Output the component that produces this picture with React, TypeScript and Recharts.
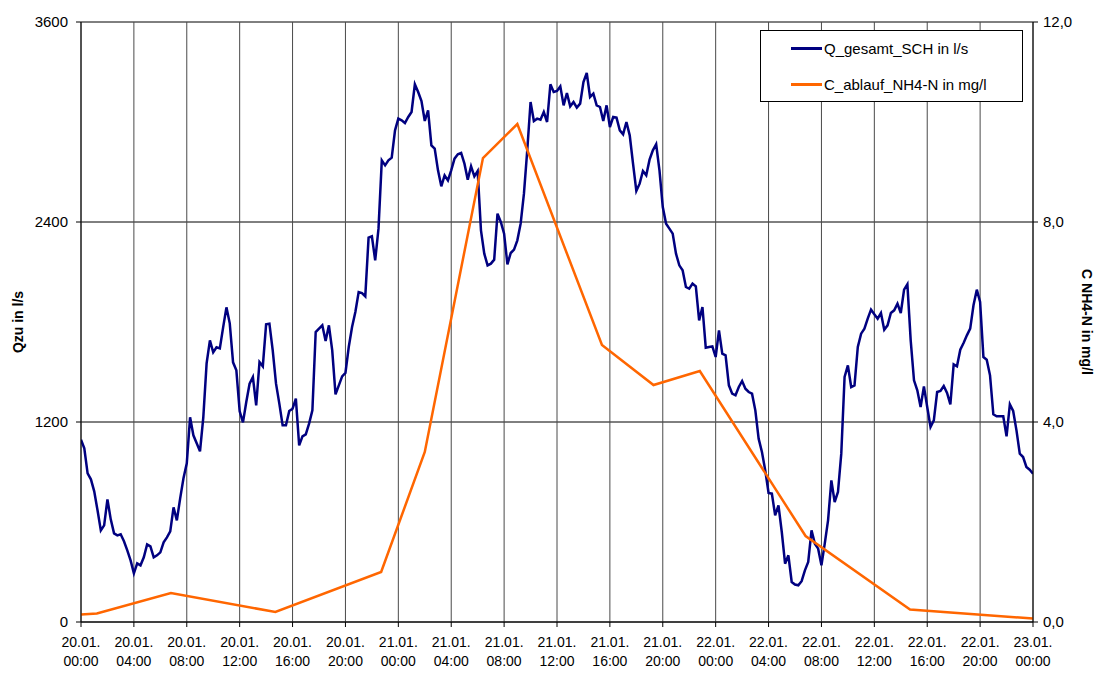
import {
  LineChart,
  Line,
  CartesianGrid,
  XAxis,
  YAxis,
  Label,
} from "recharts";

// Q_gesamt_SCH in l/s, one value every 15 minutes from 20.01. 00:00 to 23.01. 00:00
const qFlow = [
  1094, 1042, 892, 856, 784, 670, 550, 580, 736, 616, 532, 520,
  526, 484, 430, 370, 292, 352, 340, 388, 466, 454, 388, 400,
  418, 478, 508, 544, 688, 610, 742, 862, 952, 1228, 1120, 1072,
  1024, 1228, 1552, 1690, 1618, 1648, 1642, 1768, 1888, 1792, 1558, 1510,
  1264, 1198, 1320, 1430, 1470, 1300, 1560, 1534, 1786, 1790, 1630, 1430,
  1310, 1180, 1180, 1266, 1280, 1340, 1060, 1114, 1126, 1190, 1270, 1740,
  1760, 1780, 1686, 1780, 1630, 1366, 1420, 1474, 1494, 1650, 1770, 1860,
  1980, 1974, 1954, 2306, 2314, 2170, 2360, 2770, 2740, 2770, 2786, 2950,
  3020, 3010, 2994, 3030, 3060, 3226, 3180, 3126, 3006, 3070, 2860, 2840,
  2710, 2614, 2680, 2650, 2710, 2780, 2806, 2814, 2750, 2654, 2734, 2674,
  2706, 2350, 2210, 2140, 2150, 2174, 2450, 2400, 2330, 2146, 2214, 2234,
  2290, 2390, 2570, 2830, 3120, 3006, 3020, 3014, 3060, 3000, 3226, 3180,
  3186, 3214, 3100, 3174, 3094, 3120, 3086, 3110, 3240, 3294, 3150, 3170,
  3100, 3090, 3006, 3100, 2970, 3030, 3026, 2950, 2926, 3000, 2920, 2750,
  2586, 2630, 2706, 2680, 2774, 2830, 2866, 2710, 2490, 2390, 2360, 2330,
  2210, 2140, 2110, 2010, 2000, 2030, 2014, 1810, 1890, 1646, 1650, 1654,
  1590, 1750, 1610, 1600, 1420, 1370, 1360, 1410, 1446, 1400, 1380, 1370,
  1270, 1100, 1020, 910, 774, 770, 640, 700, 540, 350, 400, 240,
  225, 220, 245, 310, 360, 550, 470, 440, 340, 470, 610, 850,
  720, 780, 1010, 1470, 1540, 1410, 1420, 1650, 1730, 1760, 1820, 1874,
  1846, 1820, 1854, 1754, 1780, 1854, 1870, 1910, 1854, 1994, 2026, 1690,
  1450, 1390, 1290, 1414, 1290, 1170, 1210, 1380, 1386, 1416, 1374, 1306,
  1546, 1534, 1634, 1674, 1720, 1760, 1900, 1994, 1920, 1590, 1574, 1480,
  1246, 1234, 1234, 1234, 1114, 1306, 1266, 1150, 1010, 990, 930, 914,
  890,
];

// C_ablauf_NH4-N in mg/l, sample times in hours after 20.01. 00:00
const cHours = [0, 1.2, 6.8, 14.7, 22.7, 26.0, 30.4, 33.0, 39.4, 43.3, 46.8, 54.8, 62.7, 72];
const cValues = [0.15, 0.17, 0.58, 0.2, 1.0, 3.4, 9.28, 9.96, 5.54, 4.74, 5.02, 1.72, 0.25, 0.07];

const xTicks = [0, 4, 8, 12, 16, 20, 24, 28, 32, 36, 40, 44, 48, 52, 56, 60, 64, 68, 72];
const xTickLabels = [
  "20.01. 00:00", "20.01. 04:00", "20.01. 08:00", "20.01. 12:00", "20.01. 16:00",
  "20.01. 20:00", "21.01. 00:00", "21.01. 04:00", "21.01. 08:00", "21.01. 12:00",
  "21.01. 16:00", "21.01. 20:00", "22.01. 00:00", "22.01. 04:00", "22.01. 08:00",
  "22.01. 12:00", "22.01. 16:00", "22.01. 20:00", "23.01. 00:00",
];
const qTicks = [0, 1200, 2400, 3600];
const cTicks = [0, 4, 8, 12];

const seriesNames = ["Q_gesamt_SCH in l/s", "C_ablauf_NH4-N in mg/l"];
const seriesColors = ["#000080", "#ff6600"];

const qData = qFlow.map((q, i) => ({ t: i * 0.25, q }));
const cData = cHours.map((t, i) => ({ t, c: cValues[i] }));

const FONT = "'Liberation Sans', Arial, sans-serif";

function XTick(props: any) {
  const { x, y, payload } = props;
  const idx = xTicks.indexOf(payload.value);
  const [day, time] = (xTickLabels[idx] ?? "").split(" ");
  return (
    <text x={x} y={y} textAnchor="middle" fontSize={14} fill="#000" fontFamily={FONT}>
      <tspan x={x} dy={18}>{day}</tspan>
      <tspan x={x} dy={19}>{time}</tspan>
    </text>
  );
}

function SideTitle(props: any) {
  const { viewBox, value, side } = props;
  const cy = viewBox.y + viewBox.height / 2;
  const cx = side === "left" ? 18 : 1087;
  const angle = side === "left" ? -90 : 90;
  return (
    <text
      x={cx}
      y={cy}
      textAnchor="middle"
      dominantBaseline="central"
      fontSize={14}
      fontWeight="bold"
      fontFamily={FONT}
      fill="#000"
      transform={`rotate(${angle}, ${cx}, ${cy})`}
    >
      {value}
    </text>
  );
}

function LegendBox() {
  return (
    <div
      style={{
        position: "absolute",
        left: 760,
        top: 30,
        width: 261,
        height: 70,
        border: "1px solid #000",
        background: "#fff",
        fontFamily: FONT,
        fontSize: 15,
      }}
    >
      {seriesNames.map((name, i) => (
        <div
          key={name}
          style={{
            position: "absolute",
            left: 30,
            top: 8 + i * 36,
            height: 18,
            display: "flex",
            alignItems: "center",
            whiteSpace: "nowrap",
          }}
        >
          <span style={{ display: "inline-block", width: 31, height: 3, background: seriesColors[i], marginRight: 2 }} />
          <span style={{ color: "#000" }}>{name}</span>
        </div>
      ))}
    </div>
  );
}

export default function App() {
  return (
    <div style={{ position: "absolute", left: 0, top: 0, width: 1098, height: 673, background: "#fff", fontFamily: FONT }}>
      <LineChart width={1098} height={673} margin={{ top: 22, right: 0, bottom: 0, left: 0 }}>
        <CartesianGrid yAxisId="q" vertical={false} stroke="#000" strokeWidth={1} />
        <CartesianGrid yAxisId="q" horizontal={false} stroke="#4a4a4a" strokeWidth={1} />
        <XAxis
          type="number"
          dataKey="t"
          domain={[0, 72]}
          ticks={xTicks}
          interval={0}
          height={51}
          tick={<XTick />}
          tickSize={5}
          axisLine={{ stroke: "#000" }}
          tickLine={{ stroke: "#000" }}
          allowDataOverflow
        />
        <YAxis
          yAxisId="q"
          orientation="left"
          domain={[0, 3600]}
          ticks={qTicks}
          width={81}
          tickSize={5}
          tickMargin={8}
          tick={{ fill: "#000", fontSize: 15, fontFamily: FONT }}
          axisLine={{ stroke: "#000" }}
          tickLine={{ stroke: "#000" }}
          allowDataOverflow
        >
          <Label content={<SideTitle side="left" value="Qzu in l/s" />} />
        </YAxis>
        <YAxis
          yAxisId="c"
          orientation="right"
          domain={[0, 12]}
          ticks={cTicks}
          width={65}
          tickSize={5}
          tickMargin={5}
          tickFormatter={(v: number) => v.toFixed(1).replace(".", ",")}
          tick={{ fill: "#000", fontSize: 15, fontFamily: FONT, textAnchor: "start" }}
          axisLine={{ stroke: "#000" }}
          tickLine={{ stroke: "#000" }}
          allowDataOverflow
        >
          <Label content={<SideTitle side="right" value="C NH4-N in mg/l" />} />
        </YAxis>
        <Line
          yAxisId="q"
          data={qData}
          dataKey="q"
          name={seriesNames[0]}
          type="linear"
          stroke={seriesColors[0]}
          strokeWidth={2.5}
          dot={false}
          activeDot={false}
          isAnimationActive={false}
        />
        <Line
          yAxisId="c"
          data={cData}
          dataKey="c"
          name={seriesNames[1]}
          type="linear"
          stroke={seriesColors[1]}
          strokeWidth={2.5}
          dot={false}
          activeDot={false}
          isAnimationActive={false}
        />
      </LineChart>
      <LegendBox />
    </div>
  );
}
